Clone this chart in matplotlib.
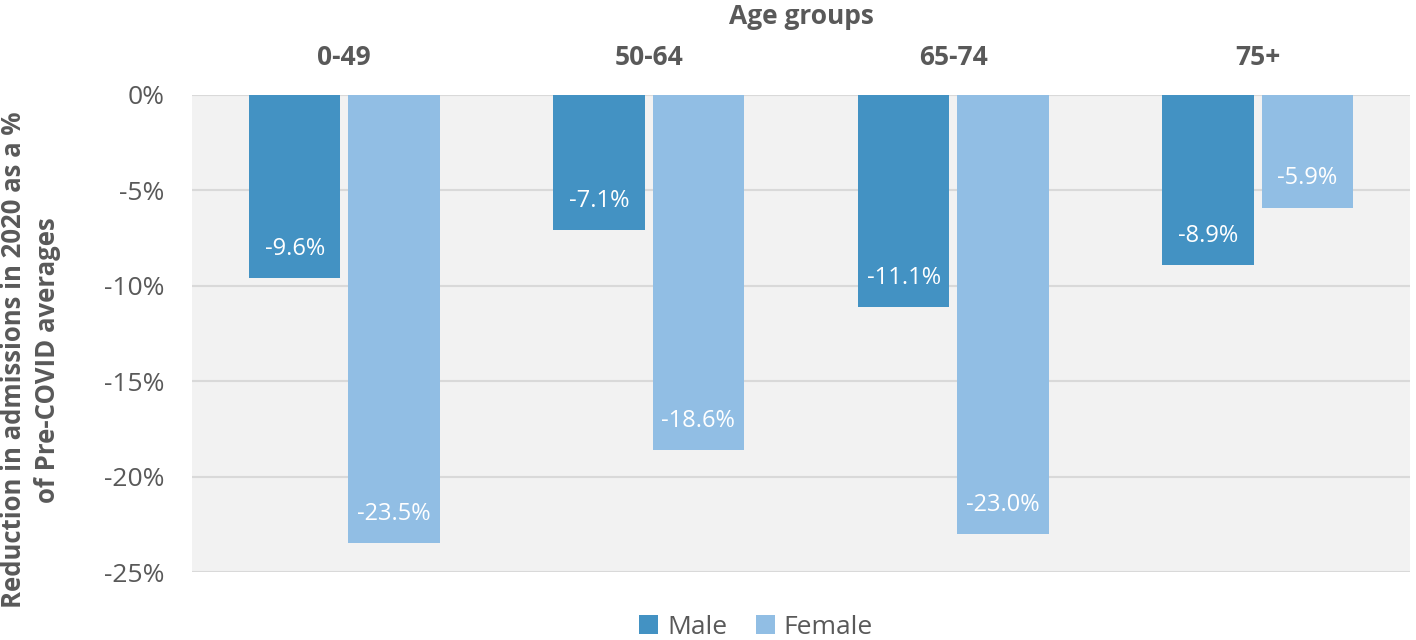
import matplotlib
matplotlib.use("Agg")
import matplotlib.pyplot as plt
import numpy as np

categories = ["0-49", "50-64", "65-74", "75+"]
male = [-9.6, -7.1, -11.1, -8.9]
female = [-23.5, -18.6, -23.0, -5.9]
series_names = ["Male", "Female"]
yticks = [0, -5, -10, -15, -20, -25]

plt.rcParams['font.family'] = ['Open Sans', 'DejaVu Sans']
txt = '#595959'
c_male = '#4392C3'
c_female = '#91BEE4'

fig = plt.figure(figsize=(14.16, 6.4), dpi=100)
ax = fig.add_axes([0.1356, 0.10625, 0.8602, 0.74535])
ax.set_facecolor('#F2F2F2')

x = np.arange(len(categories))
w = 0.30
gap = 0.026
off = (w + gap) / 2
b1 = ax.bar(x - off, male, w, color=c_male, label=series_names[0], zorder=3)
b2 = ax.bar(x + off, female, w, color=c_female, label=series_names[1], zorder=3)

for bars, vals in ((b1, male), (b2, female)):
    for rect, v in zip(bars, vals):
        ax.annotate(f"{v:.1f}%", (rect.get_x() + rect.get_width() / 2, v),
                    xytext=(0, 21), textcoords='offset points',
                    ha='center', va='center', color='white', fontsize=17, zorder=4)

ax.set_xlim(-0.5, len(categories) - 0.5)
ax.set_ylim(-25, 0)
ax.set_yticks(yticks)
ax.set_yticklabels([f"{t}%" for t in yticks])
ax.yaxis.grid(True, color='#D9D9D9', linewidth=1.5, zorder=0)
ax.set_axisbelow(True)
for s in ax.spines.values():
    s.set_visible(False)
ax.tick_params(axis='y', length=0, pad=20, labelsize=19, labelcolor=txt)

ax.xaxis.tick_top()
ax.set_xticks(x)
ax.set_xticklabels(categories, fontweight='bold')
ax.tick_params(axis='x', length=0, pad=17, labelsize=19, labelcolor=txt)

fig.text(0.5 * (0.1356 + 0.9958), 1 - 16 / 640, "Age groups", ha='center', va='center',
         fontsize=19, fontweight='bold', color=txt)

fig.text(0.0215, 1 - 360 / 640, "Reduction in admissions in 2020 as a %\nof Pre-COVID averages",
         rotation=90, ha='center', va='center', fontsize=18.5, fontweight='bold',
         color=txt, linespacing=1.3)

leg = fig.legend(loc='center', bbox_to_anchor=(0.534, 1 - 627 / 640), ncol=2, frameon=False,
                 fontsize=19, handlelength=0.7, handleheight=0.7, handletextpad=0.35,
                 columnspacing=1.1, labelcolor=txt)

fig.savefig("out.png", dpi=100)
